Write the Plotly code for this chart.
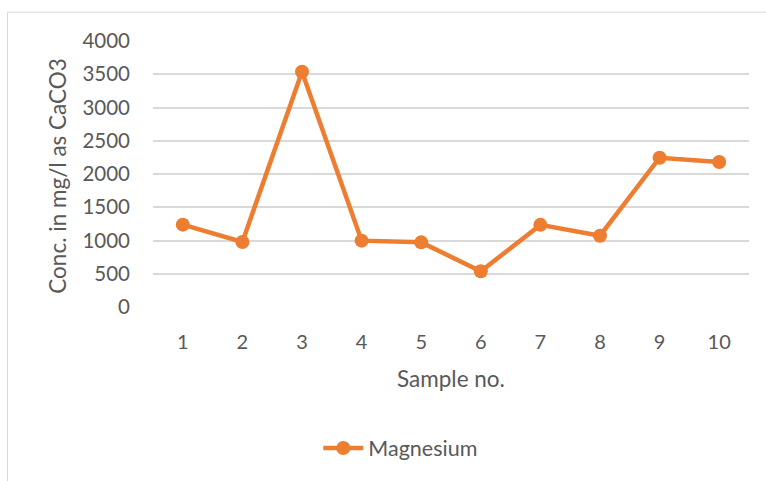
import plotly.graph_objects as go

samples = [1, 2, 3, 4, 5, 6, 7, 8, 9, 10]
sample_labels = ["1", "2", "3", "4", "5", "6", "7", "8", "9", "10"]
magnesium = [1238, 978, 3538, 998, 972, 537, 1235, 1072, 2245, 2180]
y_ticks = [0, 500, 1000, 1500, 2000, 2500, 3000, 3500, 4000]

ORANGE = "#ED7D31"
GRAY = "#595959"
GRID = "#D9D9D9"
FONT = "Lato, 'Open Sans', sans-serif"

fig = go.Figure()
fig.add_trace(go.Scatter(
    x=samples, y=magnesium, mode="lines+markers", name="Magnesium",
    line=dict(color=ORANGE, width=4.5),
    marker=dict(color=ORANGE, size=14),
))

fig.update_layout(
    width=766, height=481,
    margin=dict(l=153, r=17, t=41, b=174),
    paper_bgcolor="white", plot_bgcolor="white",
    font=dict(family=FONT, color=GRAY, size=20),
    showlegend=True,
    legend=dict(orientation="h", x=0.415, xanchor="center", y=-0.53, yanchor="middle",
                font=dict(size=21.5, color=GRAY), itemwidth=40),
    xaxis=dict(range=[0.5, 10.5], tickvals=samples, ticktext=sample_labels,
               showgrid=False, zeroline=False, showline=False,
               ticks="", ticklabelstandoff=21, tickfont=dict(size=20, color=GRAY)),
    yaxis=dict(range=[0, 4000], tickvals=y_ticks, showgrid=True, gridcolor=GRID,
               gridwidth=1.5, zeroline=False, showline=False, ticks="",
               ticklabelstandoff=22, tickfont=dict(size=20.5, color=GRAY)),
    annotations=[
        dict(text="Conc. in mg/l as CaCO3", xref="paper", yref="paper",
             x=(58 - 153) / 596, y=(307.3 - 176) / 266, textangle=-90,
             showarrow=False, xanchor="center", yanchor="middle",
             font=dict(size=22.5, color=GRAY)),
        dict(text="Sample no.", xref="paper", yref="paper",
             x=(451 - 153) / 596, y=(307.3 - 379) / 266,
             showarrow=False, xanchor="center", yanchor="middle",
             font=dict(size=22.5, color=GRAY)),
    ],
    shapes=[
        dict(type="rect", xref="paper", yref="paper",
             x0=(7.5 - 153) / 596, x1=(780 - 153) / 596,
             y0=(307.3 - 500) / 266, y1=(307.3 - 12.5) / 266,
             line=dict(color=GRID, width=1), layer="below"),
    ],
)

fig.write_html("out.html")
